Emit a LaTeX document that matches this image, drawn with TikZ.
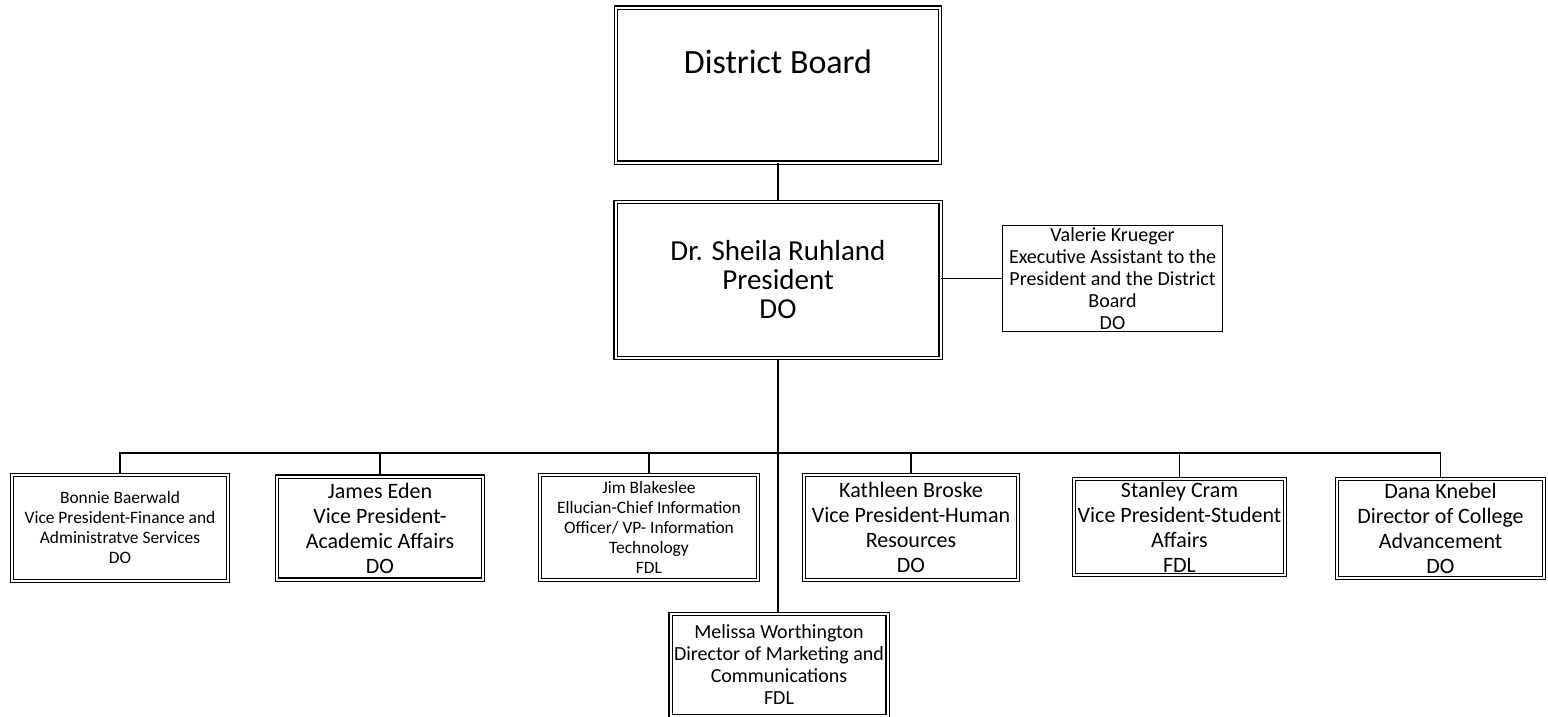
\documentclass[tikz,border=0pt]{standalone}
\usepackage{fontspec}
\setmainfont{Carlito}
\usetikzlibrary{positioning}
\tikzset{box/.style={draw,double,double distance=1pt,line width=.6pt,align=center,inner sep=0pt},
 ea/.style={draw,line width=.6pt,align=center,inner sep=0pt},
 sm/.style={font=\fontsize{8.7}{10}\selectfont},
 md/.style={font=\fontsize{10}{11}\selectfont},
 lg/.style={font=\fontsize{11}{12.5}\selectfont},
 wire/.style={line width=.7pt}}
\begin{document}
\begin{tikzpicture}[x=.5pt,y=-.5pt]
\useasboundingbox (0,0) rectangle (1548,717);
\node[box,anchor=north,minimum width=162pt,text height=33pt,text depth=44.5pt,
 font=\fontsize{17}{20}\selectfont](board) at (778,7){District Board};
\node[box,minimum width=162.5pt,minimum height=78pt,font=\fontsize{14.5}{14.5}\selectfont]
 (pres) at (778,280){Dr. Sheila Ruhland\\President\\DO};
\node[ea,md,minimum width=110pt,minimum height=53pt](asst) at (1112.5,278.5)
 {Valerie Krueger\\Executive Assistant to the\\President and the District\\Board\\DO};
\draw[wire](board)--(pres);
\draw[wire](pres.east|-asst.west)--(asst.west);
% second row
\node[box,sm,minimum width=108pt,minimum height=53pt](bb) at (120,528)
 {Bonnie Baerwald\\Vice President-Finance and\\Administratve Services\\DO};
\node[box,lg,minimum width=103pt,minimum height=51.5pt](je) at (380,528)
 {James Eden\\Vice President-\\Academic Affairs\\DO};
\node[box,sm,minimum width=109pt,minimum height=52.5pt](jb) at (649,527.5)
 {Jim Blakeslee\\Ellucian-Chief Information\\Officer/ VP- Information\\Technology\\FDL};
\node[box,lg,minimum width=107pt,minimum height=52.5pt](kb) at (911,527.5)
 {Kathleen Broske\\Vice President-Human\\Resources\\DO};
\node[box,lg,minimum width=105.5pt,minimum height=48pt](sc) at (1179.5,527)
 {Stanley Cram\\Vice President-Student\\Affairs\\FDL};
\node[box,lg,minimum width=103.5pt,minimum height=49.5pt](dk) at (1440.5,528.5)
 {Dana Knebel\\Director of College\\Advancement\\DO};
\node[box,md,minimum width=108.5pt,minimum height=51pt](mw) at (779,665)
 {Melissa Worthington\\Director of Marketing and\\Communications\\FDL};
\coordinate(bus) at (779,453);
\draw[wire](pres.south)--(pres.south|-mw.north);
\draw[wire](bb.north)|-(bus)-|(dk.north);
\foreach \n in {je,jb,kb,sc}
 \draw[wire](\n.north)--(\n.north|-bus);
\end{tikzpicture}
\end{document}
